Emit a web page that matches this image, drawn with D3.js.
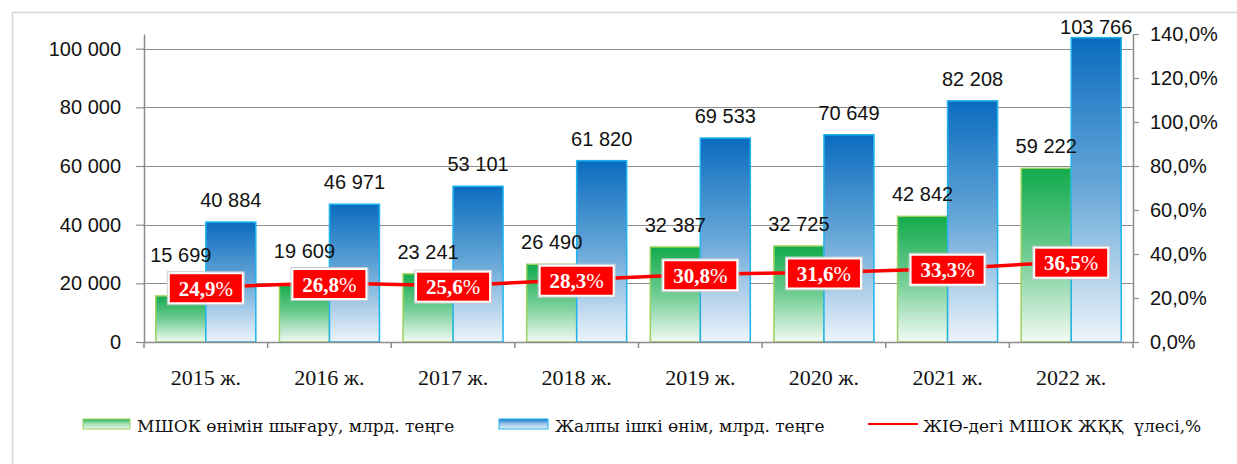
<!DOCTYPE html>
<html><head><meta charset="utf-8">
<script src="https://cdn.jsdelivr.net/npm/d3@7"></script>
<style>body{margin:0;background:#fff}svg{display:block}</style>
</head><body>
<svg id="c" width="1237" height="464"></svg>
<script>
const categories = ["2015 ж.","2016 ж.","2017 ж.","2018 ж.","2019 ж.","2020 ж.","2021 ж.","2022 ж."];
const smeOutput = [15699,19609,23241,26490,32387,32725,42842,59222];
const gdp = [40884,46971,53101,61820,69533,70649,82208,103766];
const smeShare = [24.9,26.8,25.6,28.3,30.8,31.6,33.3,36.5];
const leftTicks = [0,20000,40000,60000,80000,100000];
const rightTicks = [0,20,40,60,80,100,120,140];
const seriesNames = ["МШОК өнімін шығару, млрд. теңге","Жалпы ішкі өнім, млрд. теңге","ЖІӨ-дегі МШОК ЖҚҚ  үлесі,%"];

const svg = d3.select("#c");
const L=144, R=1133, B=342, T=34;
const sans = "'Liberation Sans', Arial, sans-serif";
const serif = "'Liberation Serif', 'Times New Roman', serif";
const serif2 = "'DejaVu Serif', serif";

svg.append("rect").attr("x",12.5).attr("y",12.5).attr("width",1240).attr("height",460)
  .attr("fill","#fff").attr("stroke","#d6d6d6").attr("stroke-width",1.5);

const defs = svg.append("defs");
function grad(id, stops){
  const g = defs.append("linearGradient").attr("id",id).attr("x1",0).attr("y1",0).attr("x2",0).attr("y2",1);
  stops.forEach(s=>g.append("stop").attr("offset",s[0]).attr("stop-color",s[1]));
}
grad("gG",[[0,"#11ab4c"],[0.5,"#6fcc92"],[1,"#f2faf4"]]);
grad("gB",[[0,"#0a6cbf"],[0.5,"#69a8d8"],[1,"#eef4fb"]]);
grad("lgG",[[0,"#2bb55c"],[0.5,"#a8e0b9"],[1,"#e8f6ec"]]);
grad("lgB",[[0,"#1575c6"],[0.5,"#9cc6ea"],[1,"#e8f1fa"]]);

const x = d3.scaleBand().domain(categories).range([L,R]).padding(0);
const x1 = d3.scaleBand().domain(["g","b"]).range([0,x.bandwidth()]).paddingInner(0).paddingOuter(0.236);
const y = d3.scaleLinear().domain([0,105000]).range([B,T]);
const y2 = d3.scaleLinear().domain([0,140]).range([B,T]);

// gridlines
svg.append("g").selectAll("line").data(leftTicks.filter(d=>d>0)).join("line")
  .attr("x1",L).attr("x2",R).attr("y1",d=>Math.round(y(d))+0.5).attr("y2",d=>Math.round(y(d))+0.5)
  .attr("stroke","#8c8c8c").attr("stroke-width",1.2);

// left axis
const fmt = d=>d3.format(",")(d).replace(/,/g," ");
const ax = svg.append("g").attr("transform",`translate(${L},0)`)
  .call(d3.axisLeft(y).tickValues(leftTicks).tickSize(8).tickPadding(15).tickFormat(fmt).tickSizeOuter(0));
ax.select(".domain").attr("stroke","#8c8c8c").attr("stroke-width",1.5);
ax.selectAll(".tick line").attr("stroke","#8c8c8c").attr("stroke-width",1.2);
ax.selectAll("text").attr("font-family",sans).attr("font-size",20).attr("fill","#111");

// right axis
const ar = svg.append("g").attr("transform",`translate(${R},0)`)
  .call(d3.axisRight(y2).tickValues(rightTicks).tickSize(6).tickPadding(11).tickFormat(d=>d.toFixed(1).replace(".",",")+"%").tickSizeOuter(0));
ar.select(".domain").attr("stroke","#8c8c8c").attr("stroke-width",1.5);
ar.selectAll(".tick line").attr("stroke","#8c8c8c").attr("stroke-width",1.2);
ar.selectAll("text").attr("font-family",sans).attr("font-size",20).attr("fill","#111");

// bars
const gBars = svg.append("g");
gBars.selectAll("rect.g").data(smeOutput).join("rect").attr("class","g")
  .attr("x",(d,i)=>x(categories[i])+x1("g")).attr("width",x1.bandwidth())
  .attr("y",d=>y(d)).attr("height",d=>B-y(d))
  .attr("fill","url(#gG)").attr("stroke","#9ad25c").attr("stroke-width",1.5);
gBars.selectAll("rect.b").data(gdp).join("rect").attr("class","b")
  .attr("x",(d,i)=>x(categories[i])+x1("b")).attr("width",x1.bandwidth())
  .attr("y",d=>y(d)).attr("height",d=>B-y(d))
  .attr("fill","url(#gB)").attr("stroke","#1db4ee").attr("stroke-width",1.5);

// bottom axis
const axb = svg.append("g").attr("transform",`translate(0,${B})`);
axb.append("line").attr("x1",L).attr("x2",R).attr("y1",0.5).attr("y2",0.5).attr("stroke","#8c8c8c").attr("stroke-width",1.5);
const bounds = categories.map(c=>x(c)).concat([R]);
axb.selectAll("line.t").data(bounds).join("line").attr("class","t")
  .attr("x1",d=>d).attr("x2",d=>d).attr("y1",0).attr("y2",6).attr("stroke","#8c8c8c").attr("stroke-width",1.5);
axb.selectAll("text").data(categories).join("text")
  .attr("x",d=>x(d)+x.bandwidth()/2).attr("y",43).attr("text-anchor","middle")
  .attr("font-family",serif).attr("font-size",22).attr("fill","#111").text(d=>d);

// line
const cx = i=>x(categories[i])+x.bandwidth()/2;
svg.append("path").datum(smeShare)
  .attr("d",d3.line().x((d,i)=>cx(i)).y(d=>y2(d)))
  .attr("fill","none").attr("stroke","#ff0000").attr("stroke-width",3.5);

// value labels
const boxH=30, boxW=74;
svg.append("g").selectAll("text").data(gdp).join("text")
  .attr("x",(d,i)=>x(categories[i])+x1("b")+x1.bandwidth()/2)
  .attr("y",d=>Math.max(y(d)-15,34)).attr("text-anchor","middle")
  .attr("font-family",sans).attr("font-size",20).attr("fill","#111").text(fmt);
svg.append("g").selectAll("text").data(smeOutput).join("text")
  .attr("x",(d,i)=>x(categories[i])+x1("g")+x1.bandwidth()/2)
  .attr("y",(d,i)=>Math.min(y(d)-15, y2(smeShare[i])+1-boxH/2-11)).attr("text-anchor","middle")
  .attr("font-family",sans).attr("font-size",20).attr("fill","#111").text(fmt);

// percent labels
const pl = svg.append("g").selectAll("g").data(smeShare).join("g")
  .attr("transform",(d,i)=>`translate(${cx(i)},${y2(d)+1})`);
pl.append("rect").attr("x",-boxW/2-1.5).attr("y",-boxH/2-1.5).attr("width",boxW+3).attr("height",boxH+3)
  .attr("fill","none").attr("stroke","#c8c8c8").attr("stroke-width",1);
pl.append("rect").attr("x",-boxW/2).attr("y",-boxH/2).attr("width",boxW).attr("height",boxH)
  .attr("fill","#ff0000").attr("stroke","#ffffff").attr("stroke-width",2);
const pt = pl.append("text").attr("text-anchor","middle").attr("y",7.5)
  .attr("font-family",serif).attr("font-size",21).attr("fill","#fff");
pt.append("tspan").attr("font-weight","bold").text(d=>d.toFixed(1).replace(".",","));
pt.append("tspan").text("%");

// legend
const lg = svg.append("g");
lg.append("rect").attr("x",83).attr("y",419).attr("width",47).attr("height",10).attr("fill","url(#lgG)").attr("stroke","#9ad25c").attr("stroke-width",1);
lg.append("text").attr("x",137).attr("y",432).attr("font-family",serif2).attr("font-size",17).attr("fill","#111").text(seriesNames[0]);
lg.append("rect").attr("x",499).attr("y",419).attr("width",49).attr("height",10).attr("fill","url(#lgB)").attr("stroke","#1db4ee").attr("stroke-width",1);
lg.append("text").attr("x",555).attr("y",432).attr("font-family",serif2).attr("font-size",17).attr("fill","#111").text(seriesNames[1]);
lg.append("line").attr("x1",868).attr("x2",918).attr("y1",424).attr("y2",424).attr("stroke","#ff0000").attr("stroke-width",2);
lg.append("text").attr("x",923).attr("y",432).attr("font-family",serif2).attr("font-size",17).attr("fill","#111").style("white-space","pre").text(seriesNames[2]);
</script>
</body></html>
